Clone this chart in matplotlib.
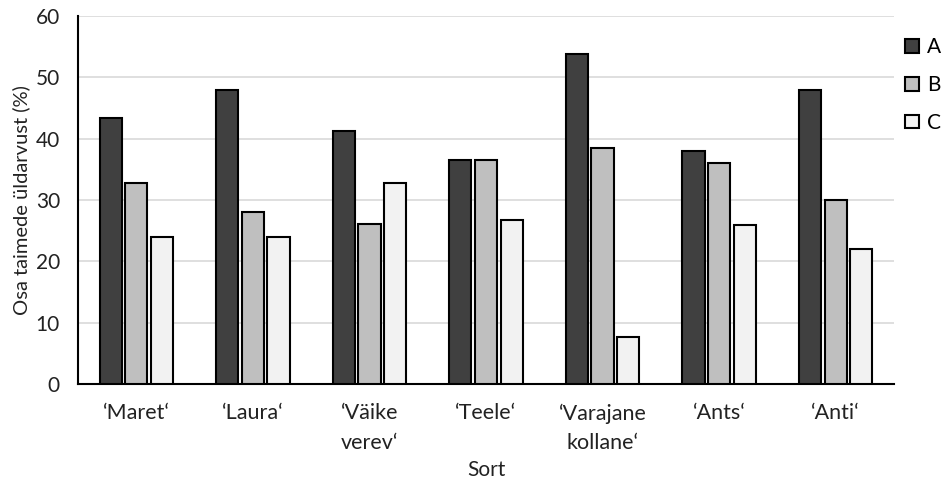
import numpy as np
import matplotlib.pyplot as plt

# sordid ja osakaalud (%)
sordid = ["‘Maret‘", "‘Laura‘", "‘Väike\nverev‘", "‘Teele‘",
          "‘Varajane\nkollane‘", "‘Ants‘", "‘Anti‘"]
a_vals = [43.4, 48.0, 41.3, 36.5, 53.8, 38.0, 48.0]
b_vals = [32.7, 28.0, 26.1, 36.5, 38.5, 36.0, 30.0]
c_vals = [24.0, 24.0, 32.7, 26.8, 7.7, 25.9, 22.0]
series_names = ["A", "B", "C"]
colors = ["#404040", "#bfbfbf", "#f2f2f2"]
yticks = [0, 10, 20, 30, 40, 50, 60]

plt.rcParams['font.family'] = ['Lato', 'DejaVu Sans']

fig = plt.figure(figsize=(9.46, 4.84), dpi=100)
ax = fig.add_axes([0.0825, 0.2066, 0.8625, 0.7604])

x = np.arange(len(sordid))
width = 0.19
step = 0.22
for i, (vals, name, col) in enumerate(zip([a_vals, b_vals, c_vals], series_names, colors)):
    ax.bar(x + (i - 1) * step, vals, width, color=col, edgecolor="black",
           linewidth=1.5, label=name, zorder=3)

ax.set_xlim(-0.5, len(sordid) - 0.5)
ax.set_ylim(0, 60)
ax.set_yticks(yticks)
ax.set_xticks(x)
ax.set_xticklabels(sordid, fontsize=15.5, color="#222222", linespacing=1.6)
ax.tick_params(axis="y", labelsize=15, colors="#222222", length=0, pad=13)
ax.tick_params(axis="x", length=0, pad=14)
ax.grid(axis="y", color="#d9d9d9", linewidth=1.2, zorder=0)
for s in ["top", "right"]:
    ax.spines[s].set_visible(False)
ax.spines["left"].set_linewidth(1.5)
ax.spines["bottom"].set_linewidth(1.5)

ax.set_ylabel("Osa taimede üldarvust (%)", fontsize=14.5, color="#222222", labelpad=4)
ax.set_xlabel("Sort", fontsize=15, color="#222222", labelpad=5)

fig.legend(loc="upper left", bbox_to_anchor=(0.948, 0.94), frameon=False,
           fontsize=15, handlelength=0.65, handleheight=0.65, labelspacing=0.85,
           handletextpad=0.4, borderaxespad=0)

fig.savefig("out.png", dpi=100)
